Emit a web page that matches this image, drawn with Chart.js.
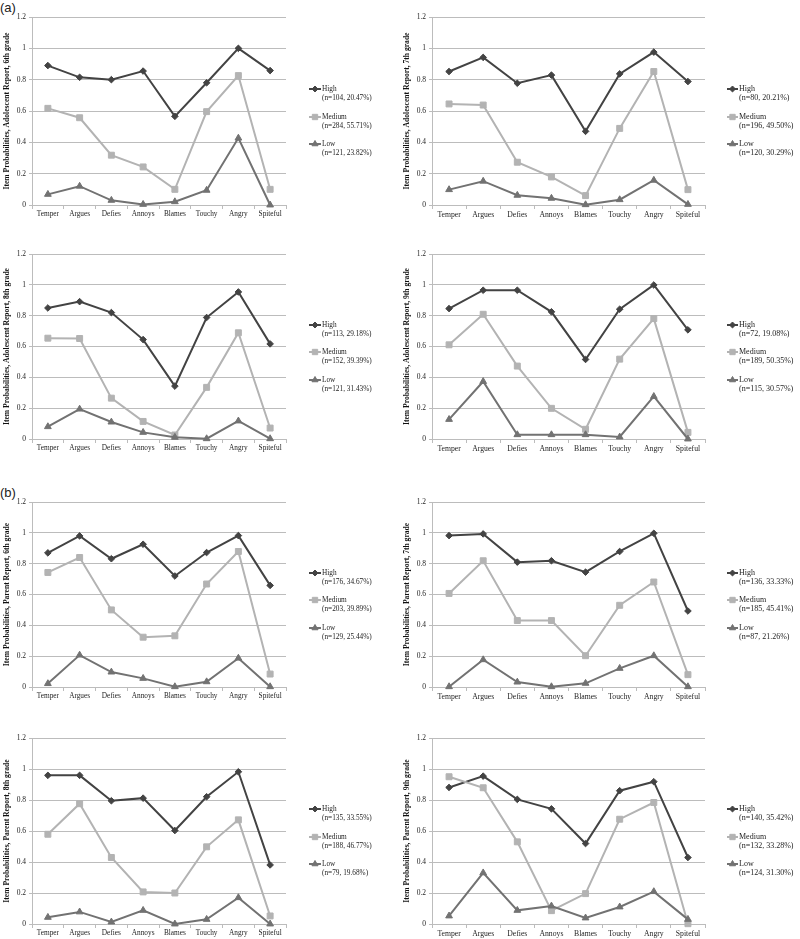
<!DOCTYPE html>
<html>
<head>
<meta charset="utf-8">
<script src="https://cdn.jsdelivr.net/npm/chart.js@4/dist/chart.umd.min.js"></script>
<style>
  html, body { margin: 0; padding: 0; background: #fff; }
  #wrap { position: relative; width: 800px; height: 939px; overflow: hidden; }
  #wrap canvas { position: absolute; }
  .lab { position: absolute; font-family: "Liberation Sans", Arial, sans-serif; font-size: 13px; line-height: 13px; color: #222; }
</style>
</head>
<body>
<div id="wrap">
  <div class="lab" style="left:0px;top:1px;">(a)</div>
  <div class="lab" style="left:0px;top:486px;">(b)</div>
</div>
<script>
// ---------------- DATA ----------------
const categories = ['Temper', 'Argues', 'Defies', 'Annoys', 'Blames', 'Touchy', 'Angry', 'Spiteful'];
const seriesNames = ['High', 'Medium', 'Low'];
const yTickLabels = ['0', '0.2', '0.4', '0.6', '0.8', '1', '1.2'];

const yTitles = [
  'Item Probabilities, Adolescent Report, 6th grade',
  'Item Probabilities, Adolescent Report, 7th grade',
  'Item Probabilities, Adolescent Report, 8th grade',
  'Item Probabilities, Adolescent Report, 9th grade',
  'Item Probabilities, Parent Report, 6th grade',
  'Item Probabilities, Parent Report, 7th grade',
  'Item Probabilities, Parent Report, 8th grade',
  'Item Probabilities, Parent Report, 9th grade'
];

// Adolescent report, 6th grade
const adol6High   = [0.89, 0.815, 0.80, 0.855, 0.566, 0.78, 1.00, 0.858];
const adol6Medium = [0.617, 0.557, 0.318, 0.243, 0.10, 0.596, 0.826, 0.10];
const adol6Low    = [0.068, 0.12, 0.03, 0.004, 0.021, 0.094, 0.427, 0.0];
const adol6Legend = ['(n=104, 20.47%)', '(n=284, 55.71%)', '(n=121, 23.82%)'];

// Adolescent report, 7th grade
const adol7High   = [0.852, 0.942, 0.777, 0.829, 0.47, 0.837, 0.976, 0.788];
const adol7Medium = [0.645, 0.638, 0.273, 0.179, 0.06, 0.489, 0.852, 0.098];
const adol7Low    = [0.098, 0.152, 0.062, 0.043, 0.002, 0.034, 0.158, 0.004];
const adol7Legend = ['(n=80, 20.21%)', '(n=196, 49.50%)', '(n=120, 30.29%)'];

// Adolescent report, 8th grade
const adol8High   = [0.85, 0.891, 0.82, 0.645, 0.343, 0.788, 0.954, 0.617];
const adol8Medium = [0.654, 0.652, 0.265, 0.114, 0.026, 0.335, 0.689, 0.071];
const adol8Low    = [0.08, 0.194, 0.11, 0.043, 0.011, 0.002, 0.117, 0.002];
const adol8Legend = ['(n=113, 29.18%)', '(n=152, 39.39%)', '(n=121, 31.43%)'];

// Adolescent report, 9th grade
const adol9High   = [0.846, 0.965, 0.965, 0.825, 0.516, 0.842, 0.999, 0.708];
const adol9Medium = [0.611, 0.809, 0.473, 0.199, 0.063, 0.518, 0.781, 0.043];
const adol9Low    = [0.127, 0.373, 0.028, 0.028, 0.028, 0.013, 0.276, 0.0];
const adol9Legend = ['(n=72, 19.08%)', '(n=189, 50.35%)', '(n=115, 30.57%)'];

// Parent report, 6th grade
const par6High   = [0.87, 0.98, 0.832, 0.926, 0.72, 0.872, 0.982, 0.659];
const par6Medium = [0.743, 0.84, 0.50, 0.323, 0.332, 0.668, 0.879, 0.084];
const par6Low    = [0.022, 0.207, 0.097, 0.056, 0.002, 0.034, 0.187, 0.002];
const par6Legend = ['(n=176, 34.67%)', '(n=203, 39.89%)', '(n=129, 25.44%)'];

// Parent report, 7th grade
const par7High   = [0.982, 0.993, 0.81, 0.819, 0.745, 0.879, 0.997, 0.493];
const par7Medium = [0.607, 0.819, 0.431, 0.431, 0.203, 0.53, 0.681, 0.08];
const par7Low    = [0.002, 0.177, 0.032, 0.002, 0.024, 0.121, 0.203, 0.002];
const par7Legend = ['(n=136, 33.33%)', '(n=185, 45.41%)', '(n=87, 21.26%)'];

// Parent report, 8th grade
const par8High   = [0.959, 0.959, 0.795, 0.812, 0.603, 0.821, 0.982, 0.381];
const par8Medium = [0.579, 0.776, 0.429, 0.207, 0.20, 0.498, 0.672, 0.052];
const par8Low    = [0.043, 0.078, 0.013, 0.088, 0.0, 0.03, 0.17, 0.0];
const par8Legend = ['(n=135, 33.55%)', '(n=188, 46.77%)', '(n=79, 19.68%)'];

// Parent report, 9th grade
const par9High   = [0.881, 0.954, 0.804, 0.743, 0.519, 0.86, 0.918, 0.429];
const par9Medium = [0.95, 0.879, 0.53, 0.086, 0.196, 0.676, 0.784, 0.002];
const par9Low    = [0.052, 0.33, 0.088, 0.116, 0.039, 0.11, 0.209, 0.03];
const par9Legend = ['(n=140, 35.42%)', '(n=132, 33.28%)', '(n=124, 31.30%)'];

// ---------------- STYLE / LAYOUT ----------------
const FONT = '"Liberation Serif", "Times New Roman", serif';
const seriesStyles = [
  { color: '#434343', pointStyle: 'rectRot', radius: 3.3, order: 3 },
  { color: '#b3b3b3', pointStyle: 'rect', radius: 4.2, order: 2 },
  { color: '#727272', pointStyle: 'triangle', radius: 3.9, order: 1 }
];
const GRID = '#bcbcbc';

// row geometry: [canvasTop, canvasHeight, plotTop, plotBottom]
const rows = [
  [0, 225, 17, 205],
  [225, 250, 29, 214],
  [475, 235, 27, 212],
  [710, 229, 28, 214]
];
// column geometry
const cols = [
  { left: 0, plotLeft: 32, plotRight: 286, legendX: 309, lineLen: 12, textX: 322, legendFont: 7.3, tickFont: 7.3 },
  { left: 400, plotLeft: 32, plotRight: 305, legendX: 327, lineLen: 11, textX: 339, legendFont: 8, tickFont: 7.7 }
];

const panelSeries = [
  [adol6High, adol6Medium, adol6Low, adol6Legend],
  [adol7High, adol7Medium, adol7Low, adol7Legend],
  [adol8High, adol8Medium, adol8Low, adol8Legend],
  [adol9High, adol9Medium, adol9Low, adol9Legend],
  [par6High, par6Medium, par6Low, par6Legend],
  [par7High, par7Medium, par7Low, par7Legend],
  [par8High, par8Medium, par8Low, par8Legend],
  [par9High, par9Medium, par9Low, par9Legend]
];

// legend plugin: line + marker, two-line text to the right of the plot
const sideLegend = {
  id: 'sideLegend',
  afterDraw(chart, args, opts) {
    const ctx = chart.ctx;
    const ca = chart.chartArea;
    const cy = (ca.top + ca.bottom) / 2;
    ctx.save();
    chart.data.datasets.forEach((ds, i) => {
      const y = Math.round(cy - 22 + i * 27.5);
      const x0 = opts.x;
      ctx.strokeStyle = ds.borderColor;
      ctx.lineWidth = 2;
      ctx.beginPath();
      ctx.moveTo(x0, y);
      ctx.lineTo(x0 + opts.lineLen, y);
      ctx.stroke();
      ctx.fillStyle = ds.pointBackgroundColor;
      ctx.strokeStyle = ds.pointBorderColor;
      ctx.lineWidth = 1;
      Chart.helpers.drawPoint(ctx, { pointStyle: ds.pointStyle, radius: ds.pointRadius * 0.9, borderWidth: 1, rotation: 0 }, x0 + opts.lineLen / 2, y);
      ctx.fillStyle = '#1e1e1e';
      ctx.font = opts.fontSize + 'px ' + FONT;
      ctx.textBaseline = 'middle';
      ctx.textAlign = 'left';
      ctx.fillText(ds.label, opts.textX, y);
      ctx.fillText(opts.details[i], opts.textX, y + 8.6);
    });
    ctx.restore();
  }
};

const wrap = document.getElementById('wrap');

panelSeries.forEach((ps, p) => {
  const row = rows[Math.floor(p / 2)];
  const col = cols[p % 2];
  const [cTop, cH, pTop, pBottom] = row;
  const canvas = document.createElement('canvas');
  canvas.width = 400;
  canvas.height = cH;
  canvas.style.left = col.left + 'px';
  canvas.style.top = cTop + 'px';
  canvas.style.width = '400px';
  canvas.style.height = cH + 'px';
  wrap.appendChild(canvas);

  const xAxisH = 14;
  const datasets = seriesNames.map((name, i) => ({
    label: name,
    data: ps[i],
    borderColor: seriesStyles[i].color,
    backgroundColor: seriesStyles[i].color,
    pointBackgroundColor: seriesStyles[i].color,
    pointBorderColor: seriesStyles[i].color,
    pointStyle: seriesStyles[i].pointStyle,
    pointRadius: seriesStyles[i].radius,
    pointBorderWidth: 1,
    borderWidth: 2,
    tension: 0,
    fill: false,
    clip: false,
    order: seriesStyles[i].order
  }));

  new Chart(canvas, {
    type: 'line',
    data: { labels: categories, datasets },
    options: {
      responsive: false,
      animation: false,
      devicePixelRatio: 1,
      layout: {
        padding: { left: 0, top: pTop, right: 400 - col.plotRight, bottom: cH - pBottom - xAxisH }
      },
      plugins: {
        legend: { display: false },
        tooltip: { enabled: false },
        sideLegend: { x: col.legendX, lineLen: col.lineLen, textX: col.textX, fontSize: col.legendFont, details: ps[3] }
      },
      scales: {
        x: {
          type: 'category',
          offset: true,
          afterFit(scale) { scale.height = xAxisH; },
          grid: { display: true, offset: true, drawOnChartArea: false, drawTicks: true, tickLength: 4, color: GRID },
          border: { display: true, color: GRID, width: 1 },
          ticks: { font: { family: FONT, size: col.tickFont }, color: '#1e1e1e', padding: 1, maxRotation: 0, autoSkip: false }
        },
        y: {
          min: 0,
          max: 1.2,
          afterFit(scale) { scale.width = col.plotLeft; },
          grid: { color: GRID, tickLength: 3, drawTicks: true },
          border: { display: true, color: GRID, width: 1 },
          ticks: {
            stepSize: 0.2,
            font: { family: FONT, size: 7.5 },
            color: '#1e1e1e',
            padding: 3,
            callback: (v, idx) => yTickLabels[idx]
          },
          title: {
            display: true,
            text: yTitles[p],
            font: { family: FONT, size: 7.6, weight: 'bold' },
            color: '#111',
            padding: { top: 2, bottom: 0 }
          }
        }
      }
    },
    plugins: [sideLegend]
  });
});
</script>
</body>
</html>
